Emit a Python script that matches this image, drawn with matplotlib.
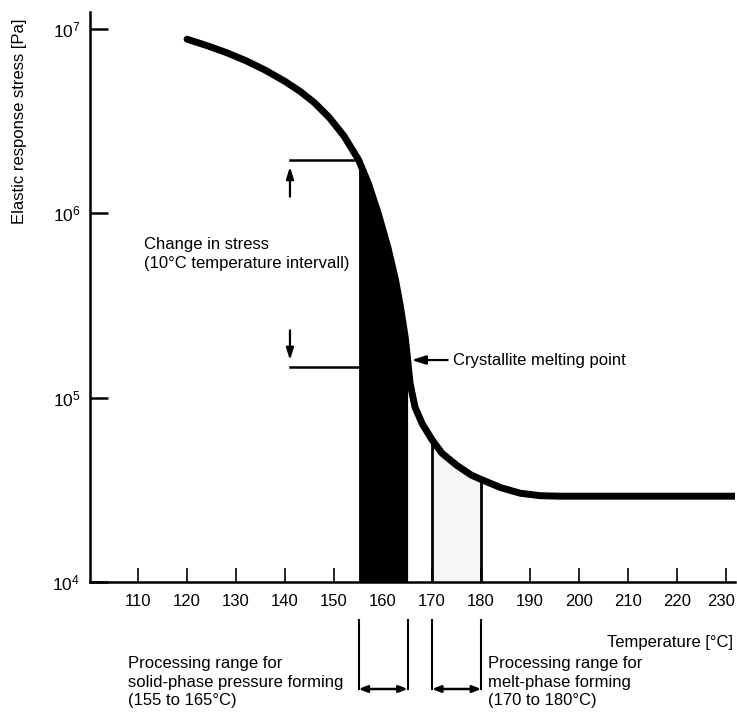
import numpy as np
import matplotlib.pyplot as plt
import matplotlib.transforms as mtransforms

plt.rcParams['font.family'] = ['Liberation Sans', 'DejaVu Sans']
plt.rcParams['mathtext.default'] = 'regular'

# curve (temperature in °C, stress in Pa)
temp = [120, 124, 128, 132, 136, 140, 143, 146, 149, 152, 155, 157, 159, 161,
        162.5, 163.5, 164.5, 165, 165.5, 166.5, 168, 170, 172, 175, 178, 180,
        184, 188, 192, 196, 232]
stress = [8.8e6, 8.13e6, 7.45e6, 6.73e6, 5.97e6, 5.19e6, 4.6e6, 3.98e6, 3.31e6, 2.63e6,
          1.95e6, 1.45e6, 1.0e6, 6.5e5, 4.4e5, 3.16e5, 2.14e5, 1.62e5, 1.2e5, 8.9e4,
          7.2e4, 5.9e4, 5.0e4, 4.3e4, 3.8e4, 3.6e4, 3.25e4, 3.03e4, 2.94e4,
          2.92e4, 2.92e4]

solid_range = (155, 165)
melt_range = (170, 180)
stress_change = (1.95e6, 1.47e5)   # upper / lower marks of the 10°C interval
melting_point = (165.8, 1.6e5)

xticks = list(range(110, 240, 10))
yticks = [1e4, 1e5, 1e6, 1e7]
ytick_labels = [r'$\mathdefault{10^{4}}$', r'$\mathdefault{10^{5}}$',
                r'$\mathdefault{10^{6}}$', r'$\mathdefault{10^{7}}$']

change_text = 'Change in stress\n(10°C temperature intervall)'
solid_text = 'Processing range for\nsolid-phase pressure forming\n(155 to 165°C)'
melt_text = 'Processing range for\nmelt-phase forming\n(170 to 180°C)'

W, H = 737, 718
fig = plt.figure(figsize=(W / 100, H / 100), dpi=100)
ax = fig.add_axes([90 / W, 1 - 582 / H, 645 / W, 570 / H])

t = np.array(temp)
s = np.array(stress)
ax.set_yscale('log')
ax.set_xlim(100.2, 231.8)
ax.set_ylim(1e4, 10 ** 7.092)

# black solid-phase band
m1 = (t >= solid_range[0]) & (t <= solid_range[1])
ax.fill_between(t[m1], s[m1], 1e4, color='black', lw=0, zorder=2)

# light melt-phase band
m2 = (t >= melt_range[0]) & (t <= melt_range[1])
ax.fill_between(t[m2], s[m2], 1e4, color='#f6f6f6', lw=0, zorder=1)
edge_vals = [s[temp.index(melt_range[0])], s[temp.index(melt_range[1])]]
ax.vlines(list(melt_range), 1e4, edge_vals, color='black', lw=2, zorder=2)

ax.plot(t, s, color='black', lw=5, solid_capstyle='round', solid_joinstyle='round', zorder=3)

# change in stress marks
x0 = 141
for y in stress_change:
    ax.plot([x0, solid_range[0]], [y, y], color='black', lw=1.8, zorder=3)
arrow = dict(arrowstyle='-|>,head_length=0.7,head_width=0.22', color='black', lw=1.6)
ax.annotate('', xy=(x0, stress_change[0] * 0.95), xytext=(x0, 1.19e6), arrowprops=arrow)
ax.annotate('', xy=(x0, stress_change[1] * 1.05), xytext=(x0, 2.4e5), arrowprops=arrow)
ax.text(111.3, 6.0e5, change_text, fontsize=12, ha='left', va='center', linespacing=1.35)

# crystallite melting point
ax.annotate('Crystallite melting point', xy=melting_point, xytext=(174.3, melting_point[1]),
            fontsize=12, ha='left', va='center',
            arrowprops=dict(arrow, shrinkA=2, shrinkB=0))

# axes styling
for side in ['top', 'right']:
    ax.spines[side].set_visible(False)
for side in ['left', 'bottom']:
    ax.spines[side].set_linewidth(1.8)
ax.set_xticks(xticks)
ax.set_xticklabels([str(v) for v in xticks])
ax.set_yticks(yticks)
ax.set_yticklabels(ytick_labels)
ax.minorticks_off()
ax.tick_params(axis='x', direction='in', length=10, width=1.2, pad=9, labelsize=12)
ax.tick_params(axis='y', direction='in', length=13, width=1.8, pad=7, labelsize=12.5)
last = ax.get_xticklabels()[-1]
last.set_transform(last.get_transform() + mtransforms.ScaledTranslation(-5 / 100, 0, fig.dpi_scale_trans))

fig.text(20 / W, 1 - 121 / H, 'Elastic response stress [Pa]', rotation=90,
         ha='center', va='center', fontsize=12)
fig.text(733 / W, 1 - 643 / H, 'Temperature [°C]', ha='right', va='center', fontsize=12)

# processing range brackets below the axis
trans = mtransforms.blended_transform_factory(ax.transData, fig.transFigure)
y_top, y_bot = 1 - 620 / H, 1 - 689 / H
for lo, hi in [solid_range, melt_range]:
    ax.plot([lo, lo], [y_top, y_bot], color='black', lw=1.5, transform=trans, clip_on=False)
    ax.plot([hi, hi], [y_top, y_bot], color='black', lw=1.5, transform=trans, clip_on=False)
    ax.annotate('', xy=(hi, y_bot), xytext=(lo, y_bot), xycoords=trans, textcoords=trans,
                arrowprops=dict(arrowstyle='<|-|>,head_length=0.5,head_width=0.2', color='black',
                                lw=1.8, shrinkA=0, shrinkB=0))

fig.text(128 / W, 1 - 682 / H, solid_text, ha='left', va='center', fontsize=12, linespacing=1.3)
fig.text(488 / W, 1 - 682 / H, melt_text, ha='left', va='center', fontsize=12, linespacing=1.3)

fig.savefig('out.png', dpi=100)
